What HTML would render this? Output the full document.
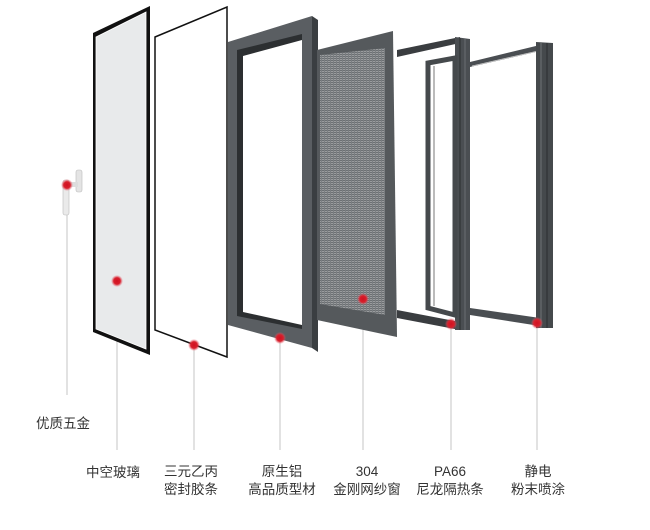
<!DOCTYPE html>
<html><head><meta charset="utf-8"><style>
body{margin:0;background:#fff;}
.t{font-family:"Liberation Sans","Noto Sans CJK SC",sans-serif;font-size:13.5px;fill:#333;text-anchor:middle;}
</style></head><body>
<svg width="650" height="525" viewBox="0 0 650 525" xmlns="http://www.w3.org/2000/svg">
<defs>
<radialGradient id="rd"><stop offset="0" stop-color="#d01020"/><stop offset="0.55" stop-color="#d8202c"/><stop offset="1" stop-color="#e86070" stop-opacity="0"/></radialGradient>
<pattern id="mesh" width="3" height="2" patternUnits="userSpaceOnUse"><rect width="3" height="2" fill="#9a9c9e"/><rect width="3" height="1" fill="#6c7073"/><rect width="1" height="2" fill="#7a7e81"/></pattern>
</defs>
<g stroke="#cfcfcf" stroke-width="1.2">
<line x1="67" y1="190" x2="67" y2="395"/>
<line x1="117" y1="282" x2="117" y2="450"/>
<line x1="194" y1="345" x2="194" y2="450"/>
<line x1="280" y1="338" x2="280" y2="450"/>
<line x1="363" y1="300" x2="363" y2="450"/>
<line x1="451" y1="324" x2="451" y2="450"/>
<line x1="537" y1="323" x2="537" y2="450"/>
</g>
<rect x="76" y="170" width="6" height="22" rx="2" fill="#e4e4e4" stroke="#bbb" stroke-width="0.6"/>
<rect x="63" y="180" width="6" height="35" rx="2" fill="#eaeaea" stroke="#bbb" stroke-width="0.6"/>
<rect x="66" y="182" width="12" height="5" fill="#ddd"/>
<polygon points="93,33 150,6 150,355 93,332" fill="#111"/>
<polygon points="96,37 146,12 146,349 96,329" fill="#e8eaeb" stroke="#fff" stroke-width="0.8"/>
<polygon points="155,37 227,7 227,357 155,330" fill="#fff" stroke="#111" stroke-width="1.5"/>
<polygon points="312,16 318,20 318,352 312,348" fill="#3a3e41"/>
<polygon points="228,42 312,16 312,348 228,325" fill="#5a5e62"/>
<polygon points="237,50 302,34 302,329 237,316" fill="#2c2f31"/>
<polygon points="243,56 302,40 302,325 243,312" fill="#fff"/>
<polygon points="317,50 393,31 397,337 317,320" fill="#55595c"/>
<polygon points="320,55 385,48 385,315 320,304" fill="url(#mesh)"/>
<polygon points="397,50 460,37 460,43 397,57" fill="#3a3d40"/>
<polygon points="397,310 460,322 460,330 397,318" fill="#3a3d40"/>
<polygon points="455,37 470,39 470,330 455,330" fill="#4a4e52"/>
<line x1="460" y1="38" x2="460" y2="330" stroke="#2a2d2f" stroke-width="1"/>
<line x1="465" y1="39" x2="465" y2="330" stroke="#6b6f72" stroke-width="1"/>
<polygon points="428,63 455,58 455,315 428,308" fill="none" stroke="#45494c" stroke-width="5"/>
<line x1="434" y1="66" x2="434" y2="306" stroke="#777" stroke-width="1"/>
<polygon points="470,62 540,45 540,51 470,67" fill="#4a4e52"/>
<polygon points="470,308 540,318 540,326 470,315" fill="#4a4e52"/>
<line x1="472" y1="66" x2="538" y2="51" stroke="#ccc" stroke-width="0.8"/>
<polygon points="536,42 553,43 553,328 536,328" fill="#45494c"/>
<line x1="541" y1="43" x2="541" y2="328" stroke="#6f7376" stroke-width="1"/>
<line x1="547" y1="43" x2="547" y2="328" stroke="#2a2d2f" stroke-width="1"/>
<g fill="url(#rd)">
<circle cx="67" cy="185" r="6"/>
<circle cx="117" cy="281" r="6"/>
<circle cx="194" cy="345" r="6"/>
<circle cx="280" cy="338" r="6"/>
<circle cx="363" cy="299" r="6"/>
<circle cx="451" cy="324" r="6"/>
<circle cx="537" cy="323" r="6"/>
</g>
<text class="t" x="63" y="428">优质五金</text>
<text class="t" x="113" y="477">中空玻璃</text>
<text class="t" x="191" y="476">三元乙丙</text>
<text class="t" x="191" y="494">密封胶条</text>
<text class="t" x="282" y="476">原生铝</text>
<text class="t" x="282" y="494">高品质型材</text>
<text class="t" x="367" y="476">304</text>
<text class="t" x="367" y="494">金刚网纱窗</text>
<text class="t" x="450" y="476">PA66</text>
<text class="t" x="450" y="494">尼龙隔热条</text>
<text class="t" x="538" y="476">静电</text>
<text class="t" x="538" y="494">粉末喷涂</text>
</svg>
</body></html>
